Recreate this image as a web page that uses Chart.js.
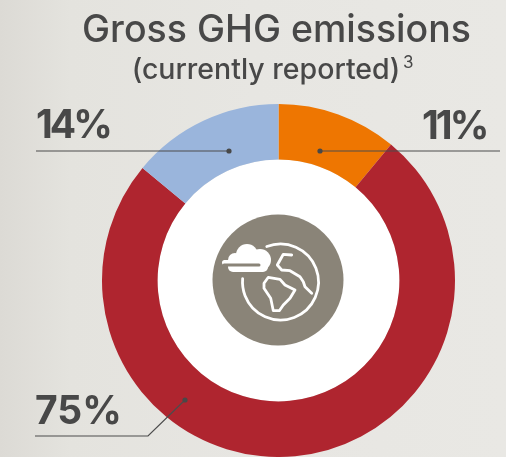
<!DOCTYPE html>
<html>
<head>
<meta charset="utf-8">
<style>
  html, body { margin: 0; padding: 0; width: 506px; height: 457px; overflow: hidden; }
  body { background: linear-gradient(90deg, #dcdad5 0%, #e4e3de 14%, #e7e6e2 50%, #e9e8e4 100%); }
  canvas { display: block; }
</style>
<script src="https://cdn.jsdelivr.net/npm/chart.js@4"></script>
</head>
<body>
<canvas id="emissions-chart" width="506" height="457"></canvas>
<script>
const categories = ['Orange share', 'Red share', 'Blue share'];
const shares = [11, 75, 14];
const sliceColors = ['#ee7601', '#af252f', '#9ab5dc'];
const titleText = 'Gross GHG emissions';
const subtitleText = '(currently reported)';
const footnoteMark = '3';

const textColor = '#484848';
const iconColor = '#8a8478';
const fontName = 'Inter, "Noto Sans", sans-serif';

// which slice each callout belongs to, with its label and leader line
const callouts = [
  { slice: 2, labelX: 36, labelY: 138, spacing: '-3px', path: [[36, 151], [229, 151]], dot: [229, 151] },
  { slice: 0, labelX: 422, labelY: 139, spacing: '-3px', path: [[320, 151], [500, 151]], dot: [320, 151] },
  { slice: 1, labelX: 35, labelY: 424, spacing: '0px', path: [[35, 436], [148, 436], [185, 400]], dot: [185, 400] }
];

// icon outlines, relative to the middle of the grey disc
const coastline = [[13.7, -25], [5.3, -25.7], [-0.7, -15], [3.7, -10], [12, -9.3], [22, -3.3], [25.3, 1.7], [27, 6.7], [33.7, 13.3]];
const continent = [[-14, 3.3], [-9.7, -2.7], [2, -0.7], [7, 5], [17, 10], [12, 18.3], [5.3, 25], [1.3, 30.7], [-4.7, 30.7], [-7.3, 18.3], [-14, 8.3]];
const cloudLobes = [[-31, -25, 11], [-43, -20, 7], [-18, -20, 11]];

const drawTitles = (ctx) => {
  ctx.fillStyle = textColor;
  ctx.textBaseline = 'alphabetic';
  ctx.textAlign = 'center';
  ctx.font = '500 37.5px ' + fontName;
  ctx.fillText(titleText, 276.5, 42);
  ctx.font = '500 28.5px ' + fontName;
  ctx.fillText(subtitleText, 266, 79);
  ctx.textAlign = 'left';
  ctx.font = '400 17px ' + fontName;
  ctx.fillText(footnoteMark, 403, 68);
};

const drawCallouts = (ctx) => {
  callouts.forEach(({ slice, labelX, labelY, spacing, path, dot }) => {
    ctx.fillStyle = textColor;
    ctx.font = '700 39px ' + fontName;
    ctx.textAlign = 'left';
    ctx.letterSpacing = spacing;
    ctx.fillText(shares[slice] + '%', labelX, labelY);
    ctx.letterSpacing = '0px';

    ctx.strokeStyle = '#4c4c4c';
    ctx.lineWidth = 1.2;
    ctx.beginPath();
    path.forEach(([x, y], i) => (i ? ctx.lineTo(x, y) : ctx.moveTo(x, y)));
    ctx.stroke();

    ctx.beginPath();
    ctx.arc(dot[0], dot[1], 2.6, 0, Math.PI * 2);
    ctx.fill();
  });
};

const tracePoints = (ctx, points) => {
  ctx.beginPath();
  points.forEach(([x, y], i) => (i ? ctx.lineTo(x, y) : ctx.moveTo(x, y)));
};

const drawIcon = (ctx, cx, cy) => {
  ctx.save();
  ctx.translate(cx, cy);

  ctx.fillStyle = iconColor;
  ctx.beginPath();
  ctx.arc(0, 0, 65.5, 0, Math.PI * 2);
  ctx.fill();

  ctx.strokeStyle = '#ffffff';
  ctx.fillStyle = '#ffffff';
  ctx.lineWidth = 2.8;
  ctx.lineCap = 'round';
  ctx.lineJoin = 'round';

  // globe outline, open where the cloud sits
  ctx.beginPath();
  ctx.arc(2.5, 2, 38, -1.94, 3.23);
  ctx.stroke();

  tracePoints(ctx, coastline);
  ctx.stroke();

  tracePoints(ctx, continent);
  ctx.closePath();
  ctx.stroke();

  // cloud lobes and base
  cloudLobes.forEach(([x, y, r]) => {
    ctx.beginPath();
    ctx.arc(x, y, r, 0, Math.PI * 2);
    ctx.fill();
  });
  ctx.beginPath();
  ctx.roundRect(-56, -20, 48, 5, 2.5);
  ctx.fill();
  ctx.beginPath();
  ctx.roundRect(-50, -20, 40, 12, 5);
  ctx.fill();

  // slot across the cloud
  ctx.strokeStyle = iconColor;
  ctx.lineWidth = 3;
  ctx.lineCap = 'round';
  ctx.beginPath();
  ctx.moveTo(-54, -15);
  ctx.lineTo(-19, -15);
  ctx.stroke();

  ctx.restore();
};

const decorationsPlugin = {
  id: 'decorations',
  beforeDatasetsDraw(chart) {
    const { ctx } = chart;
    const arc = chart.getDatasetMeta(0).data[0];
    ctx.save();
    ctx.fillStyle = '#ffffff';
    ctx.beginPath();
    ctx.arc(arc.x, arc.y, arc.innerRadius, 0, Math.PI * 2);
    ctx.fill();
    ctx.restore();
  },
  afterDatasetsDraw(chart) {
    const { ctx } = chart;
    const arc = chart.getDatasetMeta(0).data[0];
    ctx.save();
    drawTitles(ctx);
    drawIcon(ctx, arc.x - 0.5, arc.y - 0.5);
    drawCallouts(ctx);
    ctx.restore();
  }
};

new Chart(document.getElementById('emissions-chart'), {
  type: 'doughnut',
  data: {
    labels: categories,
    datasets: [{
      data: shares,
      backgroundColor: sliceColors,
      borderWidth: 0,
      hoverOffset: 0
    }]
  },
  options: {
    responsive: false,
    animation: false,
    cutout: '68.5%',
    layout: { padding: { top: 104, left: 102, right: 51, bottom: 0 } },
    plugins: {
      legend: { display: false },
      tooltip: { enabled: false }
    }
  },
  plugins: [decorationsPlugin]
});
</script>
</body>
</html>
